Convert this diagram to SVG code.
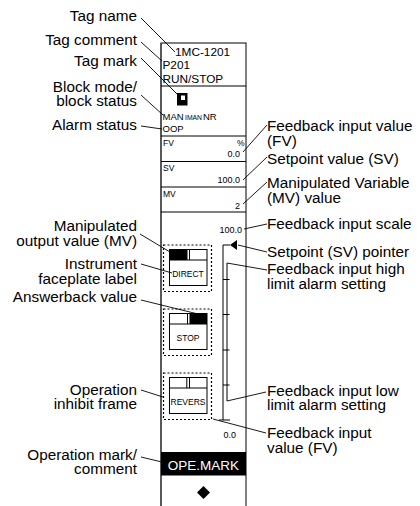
<svg xmlns="http://www.w3.org/2000/svg" width="420" height="506" viewBox="0 0 420 506">
<style>
text{font-family:"Liberation Sans",Arial,sans-serif;fill:#000}
.lbl{font-size:15.3px}
.l{text-anchor:end}
.p{font-size:11.8px}
.s{font-size:9.5px}
.v{font-size:9px;text-anchor:end}
.b{font-size:8.5px;text-anchor:middle}
.ln{stroke:#000;stroke-width:1;fill:none}
.ld{stroke:#000;stroke-width:0.9;fill:none}
.fr{stroke:#000;stroke-width:1.2;fill:none;stroke-dasharray:2 2}
.bt{stroke:#000;stroke-width:1;fill:#fff}
</style>
<rect width="420" height="506" fill="#fff"/>
<g id="panel">
<rect x="161" y="43" width="85" height="470" class="ln" fill="#fff"/>
<line x1="161" y1="43" x2="161" y2="506" stroke="#555" stroke-width="1.8"/>
<line x1="161" y1="86" x2="246" y2="86" class="ln"/>
<line x1="161" y1="136" x2="246" y2="136" class="ln"/>
<line x1="161" y1="161.5" x2="246" y2="161.5" class="ln"/>
<line x1="161" y1="187" x2="246" y2="187" class="ln"/>
<line x1="161" y1="212" x2="246" y2="212" class="ln"/>
</g>
<g id="tag">
<text x="175" y="55.5" class="p">1MC-1201</text>
<text x="162.5" y="68.5" class="p">P201</text>
<text x="162.5" y="82.5" class="p">RUN/STOP</text>
</g>
<g id="tagmark">
<rect x="177" y="93" width="10.5" height="12.5" fill="#000"/>
<rect x="181" y="95.5" width="4" height="4.5" fill="#fff"/>
</g>
<g id="mode">
<text x="162.5" y="120" class="s">MAN</text>
<text x="185" y="120" style="font-size:6.8px">IMAN</text>
<text x="203" y="120" class="s">NR</text>
<text x="162.5" y="131.5" class="s">OOP</text>
</g>
<g id="fv">
<text x="163" y="145.5" style="font-size:8.5px">FV</text>
<text x="237" y="145.5" style="font-size:8.5px">%</text>
<text x="240" y="157" class="v">0.0</text>
</g>
<g id="sv">
<text x="163" y="171" style="font-size:8.5px">SV</text>
<text x="240" y="183" class="v">100.0</text>
</g>
<g id="mv">
<text x="163" y="196.5" style="font-size:8.5px">MV</text>
<text x="240" y="209" class="v">2</text>
</g>
<g id="scale">
<text x="242" y="233" class="v">100.0</text>
<text x="236" y="438" class="v">0.0</text>
<polyline points="223,420 223,245 230,245" class="ln"/>
<polygon points="230,245 237,240 237,250" fill="#000"/>
<line x1="227" y1="263" x2="227" y2="401" class="ln"/>
<line x1="223" y1="279.5" x2="229.5" y2="279.5" class="ln"/>
<line x1="223" y1="314.5" x2="229.5" y2="314.5" class="ln"/>
<line x1="223" y1="350" x2="229.5" y2="350" class="ln"/>
<line x1="223" y1="385" x2="229.5" y2="385" class="ln"/>
<line x1="219" y1="420" x2="230" y2="420" class="ln"/>
</g>
<g id="btn-direct">
<rect x="163.5" y="245" width="48" height="46.5" class="fr"/>
<rect x="169.5" y="249.5" width="37.5" height="36" class="bt"/>
<rect x="169.5" y="249.5" width="18" height="10.5" fill="#000"/>
<line x1="169.5" y1="260" x2="207" y2="260" class="ln"/>
<line x1="189.5" y1="249.5" x2="189.5" y2="260" class="ln"/>
<text x="188" y="276.5" class="b">DIRECT</text>
</g>
<g id="btn-stop">
<rect x="163.5" y="309" width="48" height="46.5" class="fr"/>
<rect x="169.5" y="313.5" width="37.5" height="36" class="bt"/>
<rect x="189.5" y="313.5" width="17.5" height="10.5" fill="#000"/>
<line x1="169.5" y1="324" x2="207" y2="324" class="ln"/>
<line x1="187.5" y1="313.5" x2="187.5" y2="324" class="ln"/>
<text x="188" y="341" class="b">STOP</text>
</g>
<g id="btn-revers">
<rect x="163.5" y="373" width="48" height="46.5" class="fr"/>
<rect x="169.5" y="377.5" width="37.5" height="36" class="bt"/>
<line x1="169.5" y1="388" x2="207" y2="388" class="ln"/>
<line x1="186.8" y1="377.5" x2="186.8" y2="388" class="ln"/>
<line x1="189.5" y1="377.5" x2="189.5" y2="388" class="ln"/>
<text x="188" y="405" class="b">REVERS</text>
</g>
<g id="opemark">
<rect x="161" y="452" width="85" height="23.5" fill="#000"/>
<text x="203.5" y="469.5" style="font-size:13.5px;fill:#fff;text-anchor:middle">OPE.MARK</text>
<polygon points="203.5,486 210,492.5 203.5,499 197,492.5" fill="#000"/>
</g>
<g id="labels-left" class="lbl">
<text x="137" y="21" class="l">Tag name</text>
<text x="137" y="45" class="l">Tag comment</text>
<text x="137" y="66" class="l">Tag mark</text>
<text x="137" y="91.5" class="l">Block mode/</text>
<text x="137" y="106" class="l">block status</text>
<text x="137" y="130" class="l">Alarm status</text>
<text x="137" y="231" class="l">Manipulated</text>
<text x="137" y="245.5" class="l">output value (MV)</text>
<text x="137" y="269" class="l">Instrument</text>
<text x="137" y="283.5" class="l">faceplate label</text>
<text x="137" y="302" class="l">Answerback value</text>
<text x="137" y="395" class="l">Operation</text>
<text x="137" y="409" class="l">inhibit frame</text>
<text x="137" y="460" class="l">Operation mark/</text>
<text x="137" y="474" class="l">comment</text>
</g>
<g id="labels-right" class="lbl">
<text x="267" y="131">Feedback input value</text>
<text x="267" y="145.5">(FV)</text>
<text x="267" y="163.5">Setpoint value (SV)</text>
<text x="267" y="188">Manipulated Variable</text>
<text x="267" y="202.5">(MV) value</text>
<text x="267" y="229">Feedback input scale</text>
<text x="267" y="257">Setpoint (SV) pointer</text>
<text x="267" y="274">Feedback input high</text>
<text x="267" y="288.5">limit alarm setting</text>
<text x="267" y="396">Feedback input low</text>
<text x="267" y="410">limit alarm setting</text>
<text x="267" y="438">Feedback input</text>
<text x="267" y="452.5">value (FV)</text>
</g>
<g id="connectors" class="ld">
<line x1="141" y1="18" x2="175" y2="52"/>
<line x1="141" y1="42" x2="162" y2="61"/>
<line x1="141" y1="58" x2="178" y2="95"/>
<line x1="141" y1="95" x2="163" y2="115"/>
<line x1="141" y1="126" x2="162" y2="129"/>
<line x1="140" y1="234" x2="170" y2="252"/>
<line x1="141" y1="264" x2="172" y2="273"/>
<line x1="141" y1="300" x2="198" y2="314"/>
<line x1="141" y1="390" x2="163" y2="397"/>
<line x1="141" y1="457" x2="162" y2="462"/>
<line x1="243" y1="152" x2="267" y2="125"/>
<line x1="243" y1="180" x2="267" y2="157"/>
<line x1="243" y1="204" x2="267" y2="182"/>
<line x1="244" y1="229" x2="267" y2="224"/>
<line x1="238" y1="245" x2="267" y2="252"/>
<line x1="227" y1="263" x2="267" y2="270"/>
<line x1="227" y1="401" x2="266" y2="392"/>
<line x1="213" y1="419" x2="266" y2="433"/>
</g>
</svg>
